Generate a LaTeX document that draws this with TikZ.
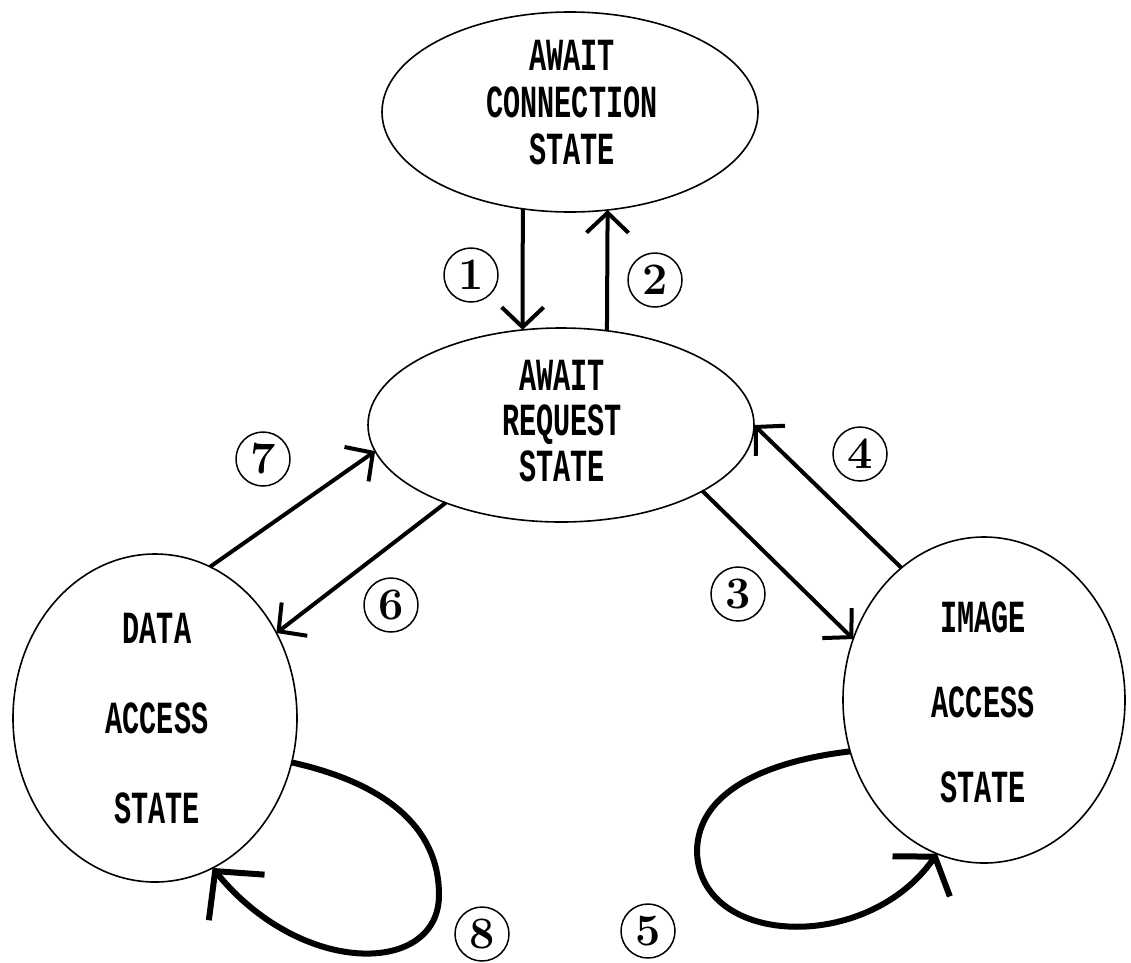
\documentclass[tikz,border=0pt]{standalone}
\usepackage{fontspec}
\usetikzlibrary{arrows.meta,shapes.geometric}
\newfontfamily\pixfont[FakeStretch=0.62]{Liberation Mono}
\begin{document}
\begin{tikzpicture}[x=1pt,y=-1pt,
  stateshape/.style={draw,ellipse,line width=1.6pt,inner sep=0pt,outer sep=0pt},
  statetext/.style={font=\pixfont\bfseries\fontsize{46}{#1}\selectfont,align=center,inner sep=0pt},
  numcirc/.style={draw,circle,line width=1.5pt,minimum size=54pt,inner sep=0pt,font=\bfseries\fontsize{45}{45}\selectfont},
  trans/.style={line width=4pt,-{Straight Barb[length=20pt,width=42pt]}},
  loopeight/.style={line width=6pt,-{Straight Barb[length=34pt,width=72pt]}},
  loopfive/.style={line width=6pt,-{Straight Barb[length=24pt,width=70pt]}}]
\useasboundingbox (0,0) rectangle (1131,962);
% states
\node[stateshape,minimum width=376pt,minimum height=200pt] (ec) at (570,112) {};
\node[stateshape,minimum width=386pt,minimum height=194pt] (er) at (561,425) {};
\node[stateshape,minimum width=284pt,minimum height=328pt] (ed) at (155,718) {};
\node[stateshape,minimum width=282pt,minimum height=326pt] (ei) at (984,700) {};
% state texts
\node[statetext=47] (tc) at (572,103) {AWAIT\\CONNECTION\\STATE};
\node[statetext=45.5] (tr) at (562,421) {AWAIT\\REQUEST\\STATE};
\node[statetext=90] (td) at (157,719) {DATA\\ACCESS\\STATE};
\node[statetext=85] (ti) at (983,702) {IMAGE\\ACCESS\\STATE};
% transitions
\draw[trans] (ec.-116.4) -- (er.112.3);
\draw[trans] (er.64) -- (ec.-69.3);
\draw[trans] (er.-25.1) -- (ei.155.2);
\draw[trans] (ei.122.8) -- (er.-0.6);
\draw[trans] (er.-146.2) -- (ed.35.3);
\draw[trans] (ed.70) -- (er.-172.2);
% loops
\coordinate (l8) at (439,895);
\coordinate (l5) at (697,852);
\draw[loopeight] (ed.-18.6) .. controls +(90,20) and +(0,-70) .. (l8)
  .. controls +(0,80) and +(90,110) .. (ed.-69);
\draw[loopfive] (ei.-159.8) .. controls +(-85,10) and +(0,-60) .. (l5)
  .. controls +(3,95) and +(-70,100) .. (ei.-107.9);
% numbers
\node[numcirc] (n1) at (471,275) {1};
\node[numcirc] (n2) at (655,280) {2};
\node[numcirc] (n3) at (738,594) {3};
\node[numcirc] (n4) at (860,454) {4};
\node[numcirc] (n5) at (648,931) {5};
\node[numcirc] (n6) at (391,605) {6};
\node[numcirc] (n7) at (263,459) {7};
\node[numcirc] (n8) at (482,934) {8};
\end{tikzpicture}
\end{document}
